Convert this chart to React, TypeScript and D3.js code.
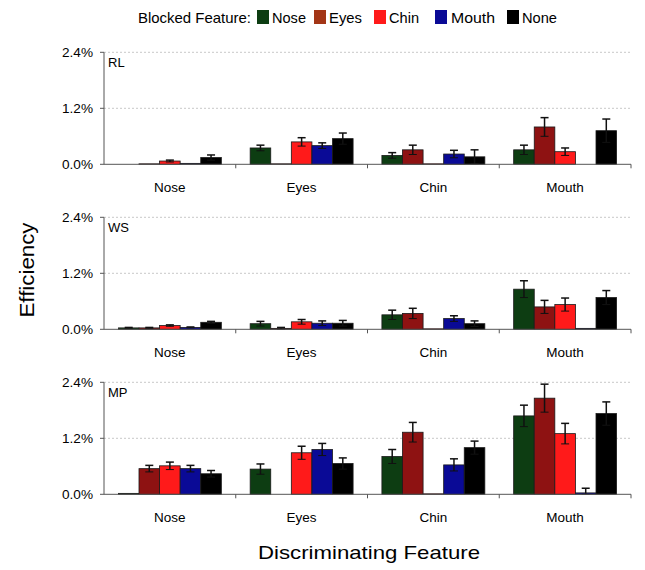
import React from "react";
import * as d3 from "d3";

const categories = ["Nose", "Eyes", "Chin", "Mouth"];
const blocked = ["Nose", "Eyes", "Chin", "Mouth", "None"];
const panelNames = ["RL", "WS", "MP"];
const yTicks = [0, 1.2, 2.4];

// values in percent, rows = discriminating feature, cols = blocked feature
const rlValues = [
  [0, 0.01, 0.07, 0.02, 0.145],
  [0.35, 0.01, 0.48, 0.40, 0.55],
  [0.19, 0.31, 0.01, 0.22, 0.16],
  [0.31, 0.80, 0.27, 0, 0.72],
];
const rlErrors = [
  [0, 0, 0.02, 0, 0.055],
  [0.06, 0, 0.09, 0.06, 0.12],
  [0.06, 0.10, 0, 0.08, 0.15],
  [0.10, 0.20, 0.08, 0, 0.25],
];
const wsValues = [
  [0.03, 0.03, 0.08, 0.04, 0.15],
  [0.12, 0.02, 0.16, 0.13, 0.13],
  [0.31, 0.34, 0.01, 0.23, 0.12],
  [0.86, 0.48, 0.53, 0.02, 0.68],
];
const wsErrors = [
  [0.01, 0.01, 0.015, 0.01, 0.02],
  [0.05, 0.02, 0.05, 0.05, 0.06],
  [0.10, 0.11, 0, 0.06, 0.06],
  [0.18, 0.14, 0.14, 0, 0.15],
];
const mpValues = [
  [0.02, 0.55, 0.61, 0.55, 0.44],
  [0.54, 0, 0.89, 0.96, 0.66],
  [0.81, 1.33, 0.01, 0.63, 1.0],
  [1.68, 2.06, 1.30, 0.03, 1.73],
];
const mpErrors = [
  [0, 0.07, 0.08, 0.07, 0.07],
  [0.11, 0, 0.14, 0.13, 0.12],
  [0.15, 0.21, 0, 0.13, 0.14],
  [0.23, 0.30, 0.22, 0.10, 0.25],
];

const colors = ["#0d3d12", "#8e1212", "#ff1a1a", "#0a0a96", "#000000"];
const legendColors = ["#0d3d12", "#a33516", "#ff1a1a", "#0a0a96", "#000000"];

const panelValues = [rlValues, wsValues, mpValues];
const panelErrors = [rlErrors, wsErrors, mpErrors];

const FONT = "'Liberation Sans', Arial, sans-serif";

export default function App() {
  const W = 645, H = 570;
  const left = 104, right = 631;
  const panelTops = [52.3, 217.3, 382.3];
  const panelH = 112;

  const x0 = d3.scaleBand<string>().domain(categories).range([left, right]).paddingInner(0).paddingOuter(0);
  const x1 = d3.scaleBand<string>().domain(blocked).range([0, x0.bandwidth()]).paddingInner(0).paddingOuter(0.7);

  const legendItems = [
    { x: 257, tx: 272, w: 34 },
    { x: 314, tx: 329, w: 33 },
    { x: 374, tx: 389, w: 30 },
    { x: 435, tx: 451, w: 44 },
    { x: 507, tx: 522, w: 35 },
  ];

  return (
    <svg width={W} height={H} style={{ position: "absolute", left: 0, top: 0, background: "#fff" }} fontFamily={FONT}>
      <rect width={W} height={H} fill="#fff" />
      {/* Legend */}
      <text x={138} y={23} fontSize={14.5} fill="#000" textLength={113} lengthAdjust="spacingAndGlyphs">Blocked Feature:</text>
      {blocked.map((b, i) => (
        <g key={b}>
          <rect x={legendItems[i].x} y={10} width={12} height={14} fill={legendColors[i]} />
          <text x={legendItems[i].tx} y={23} fontSize={14.5} fill="#000" textLength={legendItems[i].w} lengthAdjust="spacingAndGlyphs">{b}</text>
        </g>
      ))}

      {panelNames.map((name, p) => {
        const y = d3.scaleLinear().domain([0, 2.4]).range([panelTops[p] + panelH, panelTops[p]]);
        const vals = panelValues[p];
        const errs = panelErrors[p];
        const zeroY = y(0);
        return (
          <g key={name}>
            {yTicks.filter((t) => t > 0).map((t) => (
              <line key={t} x1={left} x2={right} y1={y(t)} y2={y(t)} stroke="#c8c8c8" strokeWidth={1} strokeDasharray="2,2" />
            ))}
            {/* y axis */}
            <line x1={left} x2={left} y1={y(2.4)} y2={zeroY} stroke="#555" strokeWidth={1} />
            {yTicks.map((t) => (
              <g key={t}>
                <line x1={left - 4} x2={left} y1={y(t)} y2={y(t)} stroke="#555" />
                <text x={93} y={y(t) + 4.5} fontSize={13} textAnchor="end" fill="#000" textLength={31} lengthAdjust="spacingAndGlyphs">{t.toFixed(1)}%</text>
              </g>
            ))}
            <text x={108} y={y(2.4) + 15} fontSize={13} fill="#000">{name}</text>
            {/* bars */}
            {categories.map((c, ci) => (
              <g key={c}>
                {blocked.map((b, bi) => {
                  const v = vals[ci][bi];
                  if (v <= 0) return null;
                  const e = errs[ci][bi];
                  const bx = (x0(c) as number) + (x1(b) as number);
                  const bw = x1.bandwidth();
                  const cx = bx + bw / 2;
                  return (
                    <g key={b}>
                      <rect x={bx} y={y(v)} width={bw} height={zeroY - y(v)} fill={colors[bi]} stroke="#1a1a1a" strokeWidth={0.8} />
                      {e > 0 && (
                        <g stroke="#111" strokeWidth={1.5}>
                          <line x1={cx} x2={cx} y1={y(v + e)} y2={y(Math.max(0, v - e))} />
                          <line x1={cx - 4} x2={cx + 4} y1={y(v + e)} y2={y(v + e)} />
                          <line x1={cx - 4} x2={cx + 4} y1={y(Math.max(0, v - e))} y2={y(Math.max(0, v - e))} strokeWidth={1} />
                        </g>
                      )}
                    </g>
                  );
                })}
              </g>
            ))}
            {/* x axis */}
            <line x1={left} x2={right} y1={zeroY} y2={zeroY} stroke="#555" strokeWidth={1} />
            {categories.map((c, ci) => (
              <g key={c}>
                {ci > 0 && <line x1={x0(c)} x2={x0(c)} y1={zeroY} y2={zeroY + 4} stroke="#555" />}
                <text x={(x0(c) as number) + x0.bandwidth() / 2} y={zeroY + 27.5} fontSize={13.5} textAnchor="middle" fill="#000">{c}</text>
              </g>
            ))}
            <line x1={right} x2={right} y1={zeroY} y2={zeroY + 4} stroke="#555" />
          </g>
        );
      })}

      <text transform="translate(34,270) rotate(-90)" fontSize={19.5} textAnchor="middle" fill="#000" textLength={95} lengthAdjust="spacingAndGlyphs">Efficiency</text>
      <text x={369} y={559} fontSize={18.5} textAnchor="middle" fill="#000" textLength={222} lengthAdjust="spacingAndGlyphs">Discriminating Feature</text>
    </svg>
  );
}
